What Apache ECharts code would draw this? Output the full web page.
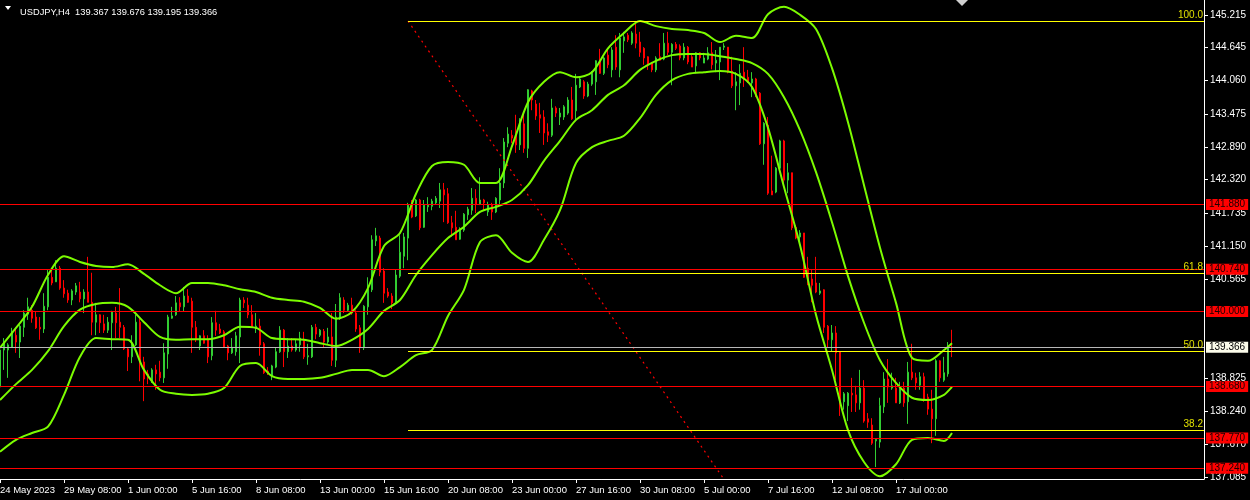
<!DOCTYPE html>
<html><head><meta charset="utf-8">
<script src="https://cdn.jsdelivr.net/npm/echarts@6/dist/echarts.min.js"></script>
<style>html,body{margin:0;padding:0;background:#000;}#c{width:1250px;height:500px;}</style>
</head><body><div id="c"></div>
<script>
const tickLabels = ["24 May 2023","29 May 08:00","1 Jun 00:00","5 Jun 16:00","8 Jun 08:00","13 Jun 00:00","15 Jun 16:00","20 Jun 08:00","23 Jun 00:00","27 Jun 16:00","30 Jun 08:00","5 Jul 00:00","7 Jul 16:00","12 Jul 08:00","17 Jul 00:00"];
const yTicks = [145.215,144.645,144.060,143.475,142.890,142.320,141.735,141.150,140.565,138.825,138.240,137.670,137.085];

const opens = [138.67,139.32,139.32,139.37,139.58,139.46,139.72,139.95,140.02,139.90,
139.72,139.69,140.08,140.60,140.52,140.76,140.41,140.32,140.20,140.34,
140.34,140.22,140.34,140.16,139.81,139.94,139.78,139.67,139.80,139.97,
139.81,139.72,139.34,139.20,139.41,139.81,139.11,138.90,138.76,138.97,
138.93,138.83,139.25,139.88,139.94,140.15,140.08,140.27,140.18,139.72,
139.39,139.57,139.50,139.22,139.80,139.69,139.64,139.39,139.27,139.29,
139.55,140.20,140.11,139.94,139.72,139.74,139.43,138.95,138.85,139.02,
139.29,139.67,139.29,139.39,139.32,139.41,139.50,139.20,139.20,139.72,
139.58,139.65,139.46,139.55,139.14,139.90,140.20,140.02,140.11,139.97,
139.71,139.36,140.08,140.38,141.24,141.29,140.71,140.34,140.27,140.16,
140.62,140.97,141.29,141.87,141.68,141.96,141.48,141.84,141.85,141.91,
141.94,142.14,142.07,141.56,141.48,141.27,141.43,141.70,141.78,141.99,
141.89,141.96,141.75,141.87,141.75,141.96,142.26,142.96,143.10,143.12,
142.93,143.30,142.87,143.88,143.65,143.46,143.42,143.16,143.10,143.58,
143.42,143.42,143.49,143.72,143.53,143.95,144.04,143.79,144.00,144.04,
144.42,144.19,144.51,144.25,144.65,144.25,144.76,144.86,144.72,144.88,
144.74,144.63,144.48,144.37,144.25,144.48,144.44,144.72,144.56,144.70,
144.67,144.46,144.65,144.48,144.32,144.55,144.37,144.44,144.55,144.37,
144.39,144.65,144.65,144.23,143.97,144.02,144.21,144.12,144.02,144.09,
143.84,142.95,143.28,142.12,142.10,142.52,143.00,142.31,142.44,141.48,
141.31,141.38,140.76,140.57,140.50,140.32,140.38,139.74,139.50,139.62,
139.29,138.41,138.34,138.56,138.53,138.39,138.65,138.11,138.00,137.72,
137.70,138.32,138.81,138.65,138.65,138.39,138.65,138.41,138.93,138.83,
138.70,138.85,138.49,138.28,138.11,139.13,138.79,138.90,139.367];

const closes = [139.32,139.46,139.41,139.62,139.46,139.74,139.97,140.08,139.88,139.71,
139.69,140.09,140.60,140.50,140.76,140.41,140.31,140.20,140.36,140.45,
140.22,140.34,140.16,139.81,139.94,139.80,139.67,139.81,139.99,139.80,
139.72,139.34,139.20,139.43,139.81,139.11,138.81,138.83,138.97,138.90,
138.83,139.27,139.90,139.92,140.15,140.08,140.27,140.16,139.72,139.50,
139.57,139.44,139.20,139.80,139.67,139.62,139.37,139.27,139.37,139.57,
140.20,140.15,139.94,139.72,139.74,139.41,138.92,138.92,139.04,139.29,
139.67,139.29,139.39,139.32,139.43,139.53,139.20,139.22,139.72,139.60,
139.67,139.46,139.55,139.14,139.90,140.24,140.02,140.11,139.97,139.69,
139.36,140.09,140.39,141.26,141.33,140.69,140.32,140.27,140.15,140.64,
141.04,141.31,141.87,141.66,141.96,141.47,141.87,141.87,141.94,141.99,
142.14,142.05,141.56,141.47,141.26,141.43,141.71,141.80,141.99,141.89,
141.96,141.91,141.87,141.75,141.99,142.26,142.98,143.12,143.05,142.93,
143.30,142.87,143.90,143.72,143.44,143.40,143.14,143.10,143.58,143.49,
143.49,143.60,143.72,143.39,143.98,144.09,143.79,144.00,144.19,144.41,
144.19,144.46,144.34,144.60,144.30,144.81,144.83,144.78,144.90,144.72,
144.56,144.46,144.34,144.25,144.46,144.42,144.72,144.56,144.70,144.63,
144.46,144.65,144.39,144.30,144.55,144.46,144.46,144.55,144.34,144.42,
144.65,144.67,144.21,143.97,144.04,144.19,144.09,144.04,144.09,143.81,
142.95,143.31,142.08,142.05,142.52,143.00,142.31,142.44,141.47,141.29,
141.38,140.60,140.52,140.46,140.34,140.36,139.72,139.50,139.62,139.27,
138.41,138.55,138.56,138.53,138.39,138.65,138.07,138.05,137.68,137.75,
138.34,138.81,138.67,138.69,138.39,138.65,138.39,138.93,138.83,138.74,
138.85,138.46,138.28,138.11,139.13,138.83,138.92,139.37,139.366];

const lows = [138.65,138.97,138.83,139.37,139.27,139.18,139.55,139.85,139.80,139.69,
139.50,139.62,140.02,140.46,140.52,140.38,140.24,140.15,140.11,140.29,
140.16,139.97,140.16,139.58,139.58,139.62,139.62,139.62,139.32,139.53,
139.53,139.32,138.95,139.09,139.39,138.77,138.42,138.72,138.74,138.62,
138.77,138.74,138.99,139.87,139.92,139.99,139.99,140.15,139.27,139.46,
139.32,139.43,139.09,139.14,139.57,139.60,139.36,139.14,139.25,139.22,
139.09,140.06,139.88,139.71,139.62,139.22,138.90,138.88,138.79,139.00,
139.27,139.02,139.18,139.29,139.29,139.29,139.16,139.06,139.18,139.51,
139.55,139.37,139.43,139.04,139.02,139.85,139.97,139.99,139.94,139.64,
139.27,139.32,139.94,140.34,141.15,140.62,140.15,140.24,140.04,140.15,
140.59,140.76,140.90,141.64,141.66,141.43,141.47,141.75,141.78,141.89,
141.82,141.57,141.54,141.31,141.26,141.26,141.40,141.61,141.70,141.73,
141.87,141.78,141.68,141.61,141.73,141.87,142.17,142.89,142.96,142.79,
142.84,142.79,142.70,143.54,143.37,143.14,142.93,142.98,143.07,143.42,
143.28,143.37,143.46,143.37,143.37,143.93,143.74,143.77,143.97,143.81,
144.18,144.16,144.28,144.12,144.25,144.12,144.55,144.74,144.69,144.63,
144.48,144.34,144.25,144.21,144.21,144.42,144.42,144.51,143.98,144.60,
144.42,144.42,144.35,144.30,144.19,144.42,144.37,144.42,144.26,144.21,
144.07,144.60,144.19,143.93,143.54,143.63,143.95,144.02,143.77,143.77,
142.93,142.58,142.05,142.05,142.08,142.49,142.19,142.08,141.43,141.27,
141.17,140.59,140.46,140.16,140.32,140.29,139.62,139.37,139.30,138.79,
138.16,138.27,138.07,138.23,138.23,138.27,138.04,137.95,137.65,137.26,
137.60,138.21,138.39,138.62,138.39,138.37,138.32,138.02,138.79,138.62,
138.62,138.41,138.18,137.68,137.81,138.76,138.76,138.85,139.195];

const highs = [139.37,139.53,139.44,139.71,139.71,139.76,140.02,140.24,140.11,139.99,
139.90,140.32,140.73,140.75,140.90,140.80,140.55,140.38,140.39,140.50,
140.52,140.39,140.96,140.68,140.15,139.95,139.94,139.90,140.01,140.08,
140.41,139.76,139.37,139.58,139.94,139.88,139.20,138.97,139.00,139.06,
139.13,139.44,139.94,140.08,140.27,140.25,140.43,140.39,140.24,139.83,
139.58,139.67,139.58,139.90,140.01,139.78,139.67,139.41,139.53,139.64,
140.24,140.25,140.24,140.11,139.97,139.87,139.46,139.02,139.06,139.36,
139.74,139.69,139.53,139.53,139.50,139.64,139.64,139.43,139.76,139.78,
139.69,139.69,139.71,139.97,140.13,140.32,140.25,140.15,140.24,140.02,
139.76,140.11,140.60,141.34,141.47,141.33,140.76,140.41,140.32,140.73,
141.34,141.38,141.91,141.96,141.98,141.98,141.96,142.01,141.98,142.03,
142.26,142.26,142.17,141.68,141.77,141.48,141.73,141.84,142.17,142.15,
142.36,141.98,141.93,141.91,142.01,142.52,143.05,143.24,143.19,143.46,
143.40,143.49,143.91,143.90,143.72,143.67,143.54,143.31,143.74,143.61,
143.58,143.63,143.77,143.95,144.18,144.12,144.07,144.04,144.23,144.42,
144.62,144.48,144.63,144.65,144.86,144.90,144.92,144.90,144.93,145.07,
144.92,144.65,144.49,144.39,144.49,144.72,144.90,144.92,144.72,144.74,
144.70,144.72,144.67,144.51,144.56,144.56,144.55,144.65,144.74,144.60,
144.65,144.72,144.65,144.48,144.21,144.35,144.65,144.25,144.21,144.11,
143.86,143.33,143.42,142.74,142.54,143.02,143.02,142.61,142.44,141.52,
141.43,141.38,140.96,140.73,140.96,140.50,140.39,139.76,139.76,139.74,
139.30,138.58,138.58,138.83,138.69,138.97,138.79,138.21,138.12,137.75,
138.48,138.93,139.16,138.92,138.83,138.76,138.76,139.11,139.43,138.92,
138.93,138.92,138.55,138.62,139.16,139.14,139.20,139.46,139.676];

const bandIdx = [0,4,8,12,16,20,24,28,32,36,40,44,48,52,56,60,64,68,72,76,80,84,88,92,96,100,104,108,112,116,120,124,128,132,136,140,144,148,152,156,160,164,168,172,176,180,184,188,192,196,200,204,208,212,216,220,224,228,232,236,238];
const bandUpper = [139.36,139.71,140.08,140.64,140.97,140.87,140.80,140.78,140.83,140.66,
140.46,140.32,140.50,140.50,140.46,140.39,140.34,140.24,140.20,140.17,
140.06,139.87,139.99,140.41,141.15,141.38,142.07,142.56,142.63,142.58,
142.26,142.26,142.91,143.68,144.04,144.21,144.12,144.21,144.63,144.90,
145.11,145.02,144.97,144.95,144.90,144.74,144.85,144.81,145.23,145.36,
145.22,144.97,144.28,143.33,142.22,141.12,140.15,139.18,139.13,139.32,139.44];
const bandMiddle = [138.44,138.72,138.97,139.30,139.74,140.03,140.13,140.15,140.08,139.81,
139.55,139.50,139.51,139.51,139.58,139.73,139.71,139.53,139.51,139.50,
139.44,139.39,139.50,139.69,140.01,140.20,140.64,140.99,141.29,141.49,
141.75,141.84,141.96,142.22,142.65,143.00,143.37,143.54,143.81,143.98,
144.25,144.41,144.51,144.53,144.53,144.49,144.44,144.37,144.18,143.77,
143.19,142.45,141.57,140.62,139.80,139.14,138.74,138.48,138.44,138.53,138.67];
const bandLower = [137.53,137.74,137.86,137.97,138.53,139.20,139.53,139.51,139.50,138.97,
138.62,138.55,138.53,138.55,138.65,139.04,139.09,138.86,138.81,138.81,
138.83,138.90,138.97,138.97,138.86,139.02,139.23,139.32,139.92,140.38,
141.22,141.34,141.03,140.87,141.26,141.78,142.61,142.89,143.00,143.09,
143.40,143.81,144.07,144.18,144.21,144.23,144.18,143.95,143.23,142.19,
141.17,139.94,138.97,137.91,137.35,137.10,137.31,137.74,137.77,137.72,137.86];

const levelPrices = [141.880,140.740,140.000,138.680,137.770,137.240];
const bidPrice = 139.366;
const fibHigh = 145.11, fibLow = 133.47;
const fibLevels = [100.0, 61.8, 50.0, 38.2];
const fibStartIdx = 102;
const trendLine = [[102,145.11],[216,133.47]];
const title = "USDJPY,H4  139.367 139.676 139.195 139.366";

const FONT = 'Liberation Sans, Arial, sans-serif';
const N = 302;
const cats = Array.from({length:N}, (_, i) => String(i));
const candles = opens.map((o, i) => [o, closes[i], lows[i], highs[i]]);
const fibPrices = fibLevels.map(l => fibLow + (fibHigh - fibLow) * l / 100);
const band = arr => bandIdx.map((x, k) => [x, arr[k]]);

const markData = [];
levelPrices.forEach(p => markData.push({
  yAxis: p,
  lineStyle: {color:'#ff0000', width:1, type:'solid'},
  label: {show:true, position:'end', formatter: p.toFixed(3), backgroundColor:'#ff0000', color:'#1a0000',
          padding:[1,3,0,3], distance:2, fontSize:10, fontFamily:FONT}
}));
fibLevels.forEach((lv, k) => markData.push([
  {coord:[fibStartIdx, fibPrices[k]], lineStyle:{color:'#ffff00', width:1, type:'solid'},
   label:{show:true, position:'insideEndTop', formatter: lv.toFixed(1), color:'#e0e000', fontSize:10, fontFamily:FONT, distance:1}},
  {coord:[N-1, fibPrices[k]]}
]));
markData.push({
  yAxis: bidPrice,
  lineStyle: {color:'#b8b8b8', width:1, type:'solid'},
  label: {show:true, position:'end', formatter: bidPrice.toFixed(3), backgroundColor:'#fbfbea', color:'#000',
          padding:[1,3,0,3], distance:2, fontSize:10, fontFamily:FONT}
});

const chart = echarts.init(document.getElementById('c'));
chart.setOption({
  backgroundColor:'#000000',
  animation:false,
  title:{text:title, left:15, top:3, textStyle:{color:'#ffffff', fontSize:9.3, fontWeight:'normal', fontFamily:FONT}},
  graphic:[
    {type:'polygon', shape:{points:[[5,6],[11,6],[8,10]]}, style:{fill:'#ffffff'}},
    {type:'polygon', shape:{points:[[956,0],[968,0],[962,6]]}, style:{fill:'#d0d0d0'}}
  ],
  grid:{left:0, right:46, top:0, bottom:21, containLabel:false, outerBoundsMode:'none'},
  xAxis:{
    type:'category', data:cats, boundaryGap:false,
    axisLine:{show:true, lineStyle:{color:'#ffffff', width:1}},
    axisTick:{show:true, length:4, interval:(i)=> i % 16 === 0 && i/16 < tickLabels.length, lineStyle:{color:'#ffffff'}},
    axisLabel:{show:true, interval:(i)=> i % 16 === 0 && i/16 < tickLabels.length, color:'#ffffff', fontSize:9.5, fontFamily:FONT,
               align:'left', margin:6, formatter:(v, i)=> tickLabels[i/16] || ''},
    splitLine:{show:false}
  },
  yAxis:{
    type:'value', position:'right', min:137.05, max:145.48,
    axisLine:{show:true, lineStyle:{color:'#ffffff', width:1}},
    axisTick:{show:true, length:4, customValues:yTicks, lineStyle:{color:'#ffffff'}},
    axisLabel:{show:true, customValues:yTicks, color:'#ffffff', fontSize:10, fontFamily:FONT, margin:6, formatter:v=>v.toFixed(3)},
    splitLine:{show:false}
  },
  series:[
    {
      type:'candlestick', data:candles, barWidth:2, z:2,
      itemStyle:{color:'#32cd32', color0:'#ff0000', borderColor:'#32cd32', borderColor0:'#ff0000', borderWidth:1},
      markLine:{silent:true, symbol:['none','none'], animation:false, data:markData}
    },
    {type:'line', data:band(bandUpper), showSymbol:false, smooth:0.3, z:4, lineStyle:{color:'#7cfc00', width:2}},
    {type:'line', data:band(bandMiddle), showSymbol:false, smooth:0.3, z:4, lineStyle:{color:'#7cfc00', width:2}},
    {type:'line', data:band(bandLower), showSymbol:false, smooth:0.3, z:4, lineStyle:{color:'#7cfc00', width:2}},
    {type:'line', data:trendLine, showSymbol:false, z:3, clip:true, lineStyle:{color:'#ff0000', width:1.2, type:[2,4]}}
  ]
});
</script></body></html>
